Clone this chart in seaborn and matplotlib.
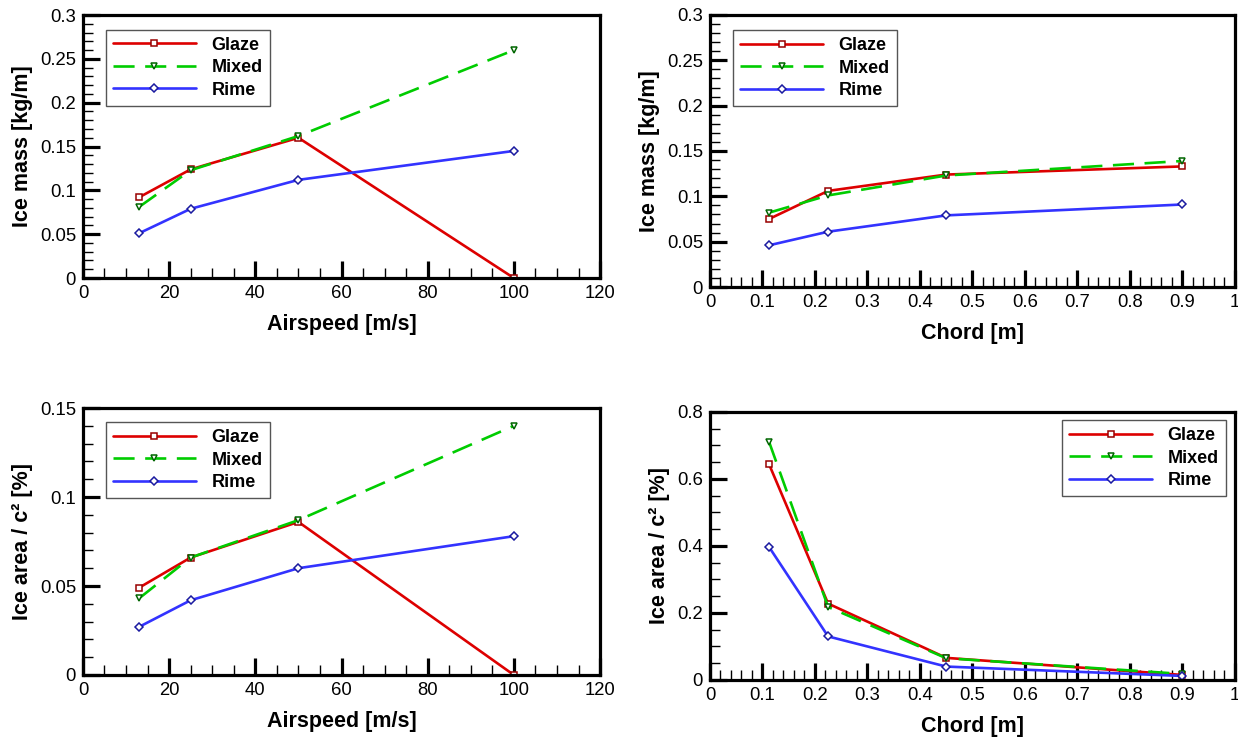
import matplotlib
matplotlib.use("Agg")
import matplotlib.pyplot as plt
from matplotlib.ticker import MultipleLocator
import seaborn as sns

sns.set_style("ticks", {"axes.edgecolor": "black", "xtick.color": "black",
                        "ytick.color": "black", "text.color": "black",
                        "axes.labelcolor": "black"})
plt.rcParams["font.family"] = ["Liberation Sans", "DejaVu Sans"]

# data
airspeed = [13, 25, 50, 100]
chord = [0.1125, 0.225, 0.45, 0.9]

mass_speed_glaze = [0.092, 0.124, 0.160, 0.0]
mass_speed_mixed = [0.081, 0.123, 0.162, 0.260]
mass_speed_rime = [0.051, 0.079, 0.112, 0.145]

mass_chord_glaze = [0.075, 0.106, 0.124, 0.133]
mass_chord_mixed = [0.082, 0.101, 0.123, 0.139]
mass_chord_rime = [0.046, 0.061, 0.079, 0.091]

area_speed_glaze = [0.049, 0.066, 0.086, 0.0]
area_speed_mixed = [0.043, 0.066, 0.087, 0.140]
area_speed_rime = [0.027, 0.042, 0.060, 0.078]

area_chord_glaze = [0.644, 0.228, 0.066, 0.015]
area_chord_mixed = [0.711, 0.218, 0.065, 0.018]
area_chord_rime = [0.397, 0.130, 0.040, 0.012]

labels = ["Glaze", "Mixed", "Rime"]
colors = ["#dd0000", "#00cc00", "#3333ff"]
edges = ["#990000", "#006600", "#1a1aa0"]
markers = ["s", "v", "D"]


def draw(ax, x, series, xlabel, ylabel, xlim, ylim, xmaj, xmin, ymaj, ymin, legend_loc, anchor):
    for y, lab, c, ec, m in zip(series, labels, colors, edges, markers):
        kw = dict(dashes=(8, 4)) if lab == "Mixed" else {}
        sns.lineplot(x=x, y=y, ax=ax, color=c, lw=1.9, marker=m, ms=5 if m != "D" else 4.5,
                     mfc="white", mec=ec, mew=1.1, label=lab, **kw)
    ax.set_xlim(*xlim)
    ax.set_ylim(*ylim)
    ax.xaxis.set_major_locator(MultipleLocator(xmaj))
    ax.xaxis.set_minor_locator(MultipleLocator(xmin))
    ax.yaxis.set_major_locator(MultipleLocator(ymaj))
    ax.yaxis.set_minor_locator(MultipleLocator(ymin))
    ax.xaxis.set_major_formatter(plt.FuncFormatter(lambda v, p: f"{v:g}"))
    ax.yaxis.set_major_formatter(plt.FuncFormatter(lambda v, p: f"{v:g}"))
    ax.tick_params(which="major", direction="in", length=12, width=2.3, labelsize=13.3, pad=5)
    ax.tick_params(which="minor", direction="in", length=7, width=1)
    for s in ax.spines.values():
        s.set_linewidth(2.3)
    ax.set_xlabel(xlabel, fontsize=15.5, fontweight="bold", labelpad=9)
    ax.set_ylabel(ylabel, fontsize=15.5, fontweight="bold", labelpad=5)
    leg = ax.legend(loc=legend_loc, bbox_to_anchor=anchor, fancybox=False, framealpha=1,
                    edgecolor="#555555", handlelength=4.6, handletextpad=0.85, borderaxespad=0,
                    prop=dict(weight="bold", size=13), borderpad=0.4, labelspacing=0.3)
    leg.get_frame().set_linewidth(1)


fig = plt.figure(figsize=(12.38, 7.42), dpi=100)
ax1 = fig.add_axes([0.067, 0.6253, 0.4177, 0.3544])
ax2 = fig.add_axes([0.5735, 0.6132, 0.424, 0.3666])
ax3 = fig.add_axes([0.067, 0.0903, 0.4177, 0.3598])
ax4 = fig.add_axes([0.5735, 0.0836, 0.424, 0.3612])

draw(ax1, airspeed, [mass_speed_glaze, mass_speed_mixed, mass_speed_rime],
     "Airspeed [m/s]", "Ice mass [kg/m]", (0, 120), (0, 0.3), 20, 5, 0.05, 0.01,
     "upper left", (0.044, 0.945))
draw(ax2, chord, [mass_chord_glaze, mass_chord_mixed, mass_chord_rime],
     "Chord [m]", "Ice mass [kg/m]", (0, 1), (0, 0.3), 0.1, 0.02, 0.05, 0.01,
     "upper left", (0.044, 0.945))
draw(ax3, airspeed, [area_speed_glaze, area_speed_mixed, area_speed_rime],
     "Airspeed [m/s]", "Ice area / c² [%]", (0, 120), (0, 0.15), 20, 5, 0.05, 0.01,
     "upper left", (0.044, 0.948))
draw(ax4, chord, [area_chord_glaze, area_chord_mixed, area_chord_rime],
     "Chord [m]", "Ice area / c² [%]", (0, 1), (0, 0.8), 0.1, 0.02, 0.2, 0.05,
     "upper right", (0.983, 0.97))

fig.savefig("out.png", dpi=100)
